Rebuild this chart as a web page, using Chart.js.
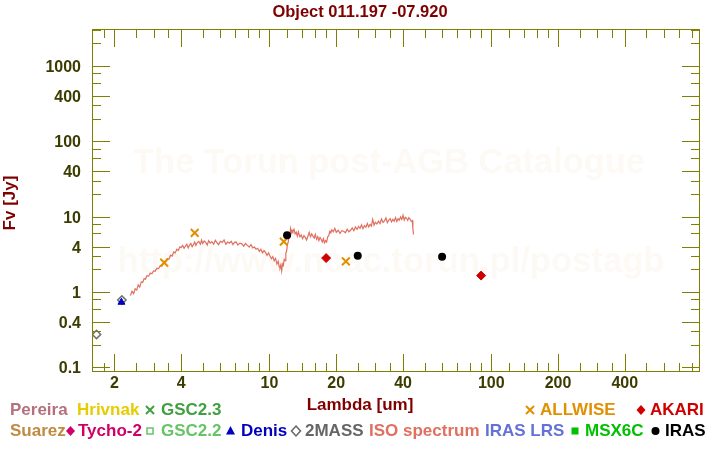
<!DOCTYPE html>
<html>
<head>
<meta charset="utf-8">
<script src="https://cdn.jsdelivr.net/npm/chart.js@4.4.1/dist/chart.umd.min.js"></script>
<style>
  html, body { margin: 0; padding: 0; background: #ffffff; }
  #wrap { width: 720px; height: 450px; }
</style>
</head>
<body>
<div id="wrap"><canvas id="myChart" width="720" height="450"></canvas></div>
<script>
// photometry (wavelength in um, flux in Jy)
const allwiseWave = [3.35, 4.6, 11.6, 22.1]
const allwiseFlux = [2.45, 6.1, 4.65, 2.55]
const irasWave = [12, 25, 60]
const irasFlux = [5.65, 3.03, 2.94]
const akariWave = [18, 90]
const akariFlux = [2.82, 1.65]
const twomassWave = [1.66, 2.16]
const twomassFlux = [0.273, 0.78]
const denisWave = [2.15]
const denisFlux = [0.73]

// ISO spectrum
const isoWave = [
  2.36, 2.40, 2.44, 2.48, 2.52, 2.56, 2.60, 2.64, 2.68, 2.72, 2.76, 2.80, 2.85, 2.90, 2.95, 3.00,
  3.05, 3.10, 3.16, 3.22, 3.28, 3.34, 3.40, 3.46, 3.52, 3.58, 3.64, 3.70, 3.76, 3.82, 3.88, 3.94,
  4.00, 4.06, 4.12, 4.18, 4.24, 4.30, 4.36, 4.42, 4.48, 4.54, 4.60, 4.66, 4.72, 4.80, 4.88, 4.94,
  5.00, 5.08, 5.16, 5.24, 5.32, 5.40, 5.50, 5.60, 5.70, 5.80, 5.90, 6.00, 6.12, 6.24, 6.36, 6.48,
  6.60, 6.72, 6.84, 6.96, 7.08, 7.20, 7.35, 7.50, 7.65, 7.80, 7.95, 8.10, 8.25, 8.40, 8.55, 8.70,
  8.85, 9.00, 9.15, 9.30, 9.45, 9.60, 9.75, 9.90, 10.05, 10.20, 10.35, 10.50, 10.65, 10.80, 10.95, 11.05,
  11.15, 11.25, 11.35, 11.45, 11.55, 11.65, 11.75, 11.85, 11.95, 12.05, 12.15, 12.25, 12.35, 12.45, 12.55, 12.65,
  12.75, 12.90, 13.05, 13.20, 13.35, 13.50, 13.70, 13.90, 14.10, 14.30, 14.50, 14.70, 14.90, 15.10, 15.30, 15.50,
  15.70, 15.90, 16.10, 16.30, 16.50, 16.70, 16.90, 17.10, 17.30, 17.50, 17.70, 17.90, 18.10, 18.30, 18.50, 18.70,
  18.90, 19.10, 19.40, 19.70, 20.00, 20.40, 20.80, 21.20, 21.60, 22.00, 22.40, 22.80, 23.20, 23.60, 24.00, 24.40,
  24.80, 25.20, 25.60, 26.00, 26.40, 26.80, 27.20, 27.60, 28.00, 28.40, 28.80, 29.20, 29.60, 30.00, 30.50, 31.00,
  31.50, 32.00, 32.50, 33.00, 33.50, 34.00, 34.50, 35.00, 35.50, 36.00, 36.50, 37.00, 37.50, 38.00, 38.50, 39.00,
  39.50, 40.00, 40.50, 41.00, 41.50, 42.00, 42.50, 43.00, 43.50, 44.00, 44.30, 44.60
]
const isoFlux = [
  0.90, 1.02, 0.95, 1.10, 1.06, 1.24, 1.16, 1.36, 1.34, 1.50, 1.48, 1.64, 1.62, 1.78, 1.74, 1.90,
  1.88, 2.05, 2.04, 2.24, 2.22, 2.44, 2.50, 2.78, 2.72, 3.08, 3.00, 3.40, 3.30, 3.70, 3.55, 3.95,
  3.90, 4.15, 3.80, 4.05, 4.30, 3.85, 4.20, 4.40, 4.00, 4.25, 4.60, 4.15, 4.50, 4.70, 4.30, 4.90,
  4.40, 4.75, 4.55, 4.20, 4.80, 4.45, 4.65, 4.30, 4.85, 4.50, 4.25, 4.70, 4.55, 4.90, 4.30, 4.60,
  4.45, 4.70, 4.25, 4.55, 4.60, 4.20, 4.45, 4.35, 4.05, 4.40, 4.15, 3.95, 4.25, 3.85, 3.95, 3.70,
  3.80, 3.45, 3.70, 3.30, 3.55, 3.35, 3.05, 3.30, 3.00, 2.75, 2.95, 2.60, 2.80, 2.35, 2.55, 2.20,
  2.10, 2.30, 1.90, 2.35, 2.25, 2.70, 2.60, 3.30, 3.50, 4.30, 4.60, 5.80, 5.60, 6.90, 6.10, 6.60,
  6.30, 6.80, 5.90, 6.20, 5.50, 6.30, 5.40, 5.70, 5.10, 5.60, 5.30, 4.90, 5.50, 6.20, 5.40, 5.90,
  5.50, 5.20, 5.80, 5.00, 5.40, 4.80, 5.30, 5.00, 4.60, 5.10, 4.50, 4.80, 4.60, 5.40, 5.60, 6.40,
  6.10, 6.70, 6.30, 7.00, 6.20, 6.60, 6.00, 6.50, 6.40, 6.10, 6.80, 6.30, 6.60, 7.10, 6.50, 7.30,
  6.80, 7.40, 7.00, 7.80, 6.90, 7.60, 7.20, 8.10, 7.30, 7.90, 7.50, 9.20, 7.70, 8.40, 8.00, 8.70,
  8.10, 9.30, 8.40, 8.80, 9.60, 8.30, 9.00, 9.40, 8.50, 9.20, 8.70, 9.70, 8.60, 9.40, 9.00, 9.90,
  9.20, 10.4, 9.00, 9.80, 9.50, 8.90, 9.70, 9.30, 8.70, 8.90, 6.90, 5.80
]

// axis tick marks and labels
const xTickMarks = [1.8, 2, 2.5, 3, 3.5, 4, 5, 6, 7, 8, 9, 10, 12, 14, 16, 18, 20, 25, 30, 35, 40,
  50, 60, 70, 80, 90, 100, 120, 140, 160, 180, 200, 250, 300, 350, 400, 500, 600, 700, 800]
const xTickLabels = [2, 4, 10, 20, 40, 100, 200, 400]
const yTickMarks = [0.1, 0.2, 0.3, 0.4, 0.6, 0.8, 1, 2, 3, 4, 6, 8, 10, 20, 30, 40, 60, 80,
  100, 200, 300, 400, 600, 800, 1000, 2000, 3000]
const yTickLabels = [0.1, 0.4, 1, 4, 10, 40, 100, 400, 1000]

const legendRows = [
  [
    { text: 'Pereira', color: '#b4707e', x: 10 },
    { text: 'Hrivnak', color: '#e6cc00', x: 77 },
    { text: 'GSC2.3', color: '#40a040', x: 161, mark: 'cross', mx: 150 },
    { text: 'ALLWISE', color: '#e09000', x: 540, mark: 'cross', mx: 530 },
    { text: 'AKARI', color: '#d00000', x: 650, mark: 'diamond', mx: 641 }
  ],
  [
    { text: 'Suarez', color: '#c08a40', x: 10 },
    { text: 'Tycho-2', color: '#d0006a', x: 78, mark: 'diamond', mx: 70.5 },
    { text: 'GSC2.2', color: '#66c466', x: 161, mark: 'square', mx: 150 },
    { text: 'Denis', color: '#0000c0', x: 241, mark: 'triangle', mx: 230.5 },
    { text: '2MASS', color: '#666666', x: 305, mark: 'openDiamond', mx: 296 },
    { text: 'ISO spectrum', color: '#e07060', x: 369 },
    { text: 'IRAS LRS', color: '#6472d6', x: 485 },
    { text: 'MSX6C', color: '#00c000', x: 585, mark: 'fillSquare', mx: 575 },
    { text: 'IRAS', color: '#000000', x: 665, mark: 'dot', mx: 655.5 }
  ]
]

const FONT = '"Liberation Sans", Arial, sans-serif'
const AXIS = '#808000'

function pts(xs, ys) {
  return xs.map((x, i) => ({ x: x, y: ys[i] }))
}

function drawMark(ctx, kind, x, y, color) {
  ctx.save()
  ctx.fillStyle = color
  ctx.strokeStyle = color
  ctx.lineWidth = 1.5
  ctx.beginPath()
  if (kind === 'cross') {
    ctx.lineWidth = 2
    ctx.moveTo(x - 4, y - 4); ctx.lineTo(x + 4, y + 4)
    ctx.moveTo(x + 4, y - 4); ctx.lineTo(x - 4, y + 4)
    ctx.stroke()
  } else if (kind === 'diamond' || kind === 'openDiamond') {
    ctx.moveTo(x, y - 5); ctx.lineTo(x + 4.5, y); ctx.lineTo(x, y + 5); ctx.lineTo(x - 4.5, y)
    ctx.closePath()
    if (kind === 'diamond') ctx.fill()
    else ctx.stroke()
  } else if (kind === 'square') {
    ctx.strokeRect(x - 3, y - 3, 6, 6)
  } else if (kind === 'fillSquare') {
    ctx.fillRect(x - 3.5, y - 3.5, 7, 7)
  } else if (kind === 'triangle') {
    ctx.moveTo(x, y - 5); ctx.lineTo(x + 4.5, y + 3.5); ctx.lineTo(x - 4.5, y + 3.5)
    ctx.closePath()
    ctx.fill()
  } else if (kind === 'dot') {
    ctx.arc(x, y, 4, 0, Math.PI * 2)
    ctx.fill()
  }
  ctx.restore()
}

function fitText(ctx, text, width) {
  ctx.font = 'bold 100px ' + FONT
  return 100 * width / ctx.measureText(text).width
}

const decor = {
  id: 'decor',
  beforeDraw(chart) {
    const ctx = chart.ctx
    ctx.save()
    ctx.fillStyle = '#ffffff'
    ctx.fillRect(0, 0, chart.width, chart.height)
    ctx.restore()
  },
  beforeDatasetsDraw(chart) {
    const ctx = chart.ctx
    ctx.save()
    ctx.fillStyle = '#fdfaf5'
    ctx.textAlign = 'center'
    ctx.textBaseline = 'middle'
    let s = fitText(ctx, 'The Torun post-AGB Catalogue', 512)
    ctx.font = 'bold ' + s + 'px ' + FONT
    ctx.fillText('The Torun post-AGB Catalogue', 389, 164)
    s = fitText(ctx, 'http://www.ncac.torun.pl/postagb', 547)
    ctx.font = 'bold ' + s + 'px ' + FONT
    ctx.fillText('http://www.ncac.torun.pl/postagb', 391, 262)
    ctx.restore()
  },
  afterDraw(chart) {
    const ctx = chart.ctx
    const a = chart.chartArea
    const xs = chart.scales.x
    const ys = chart.scales.y
    ctx.save()
    ctx.strokeStyle = AXIS
    ctx.lineWidth = 1
    ctx.strokeRect(a.left + 0.5, a.top + 0.5, a.right - a.left - 1, a.bottom - a.top - 1)
    ctx.beginPath()
    xTickMarks.forEach(function (v) {
      const px = Math.round(xs.getPixelForValue(v)) + 0.5
      const len = xTickLabels.includes(v) ? 18 : 9
      ctx.moveTo(px, a.bottom); ctx.lineTo(px, a.bottom - len)
      ctx.moveTo(px, a.top); ctx.lineTo(px, a.top + len)
    })
    yTickMarks.forEach(function (v) {
      const py = Math.round(ys.getPixelForValue(v)) + 0.5
      const len = yTickLabels.includes(v) ? 18 : 9
      ctx.moveTo(a.left, py); ctx.lineTo(a.left + len, py)
      ctx.moveTo(a.right, py); ctx.lineTo(a.right - len, py)
    })
    ctx.stroke()

    ctx.fillStyle = '#800000'
    ctx.font = 'bold 16.5px ' + FONT
    ctx.textAlign = 'center'
    ctx.textBaseline = 'middle'
    ctx.fillText('Object 011.197 -07.920', 360, 12)
    ctx.font = 'bold 17px ' + FONT
    ctx.fillText('Lambda [um]', 360, 405)
    ctx.save()
    ctx.translate(10, 203)
    ctx.rotate(-Math.PI / 2)
    ctx.fillText('Fv [Jy]', 0, 0)
    ctx.restore()

    ctx.textAlign = 'left'
    const rowY = [410, 431]
    legendRows.forEach(function (row, r) {
      row.forEach(function (e) {
        if (e.mark) drawMark(ctx, e.mark, e.mx, rowY[r], e.color)
        ctx.fillStyle = e.color
        ctx.fillText(e.text, e.x, rowY[r])
      })
    })
    ctx.restore()
  }
}

const tickFont = { family: FONT, size: 16, weight: 'bold' }

const config = {
  type: 'scatter',
  data: {
    datasets: [
      {
        label: 'IRAS',
        data: pts(irasWave, irasFlux),
        pointStyle: 'circle',
        pointRadius: 4,
        backgroundColor: '#000000',
        borderColor: '#000000',
        borderWidth: 0
      },
      {
        label: 'AKARI',
        data: pts(akariWave, akariFlux),
        pointStyle: 'rectRot',
        pointRadius: 4.5,
        backgroundColor: '#d00000',
        borderColor: '#d00000',
        borderWidth: 1
      },
      {
        label: 'ALLWISE',
        data: pts(allwiseWave, allwiseFlux),
        pointStyle: 'crossRot',
        pointRadius: 5.5,
        borderColor: '#e09000',
        borderWidth: 2
      },
      {
        label: 'Denis',
        data: pts(denisWave, denisFlux),
        pointStyle: 'triangle',
        pointRadius: 4,
        backgroundColor: '#0000c0',
        borderColor: '#0000c0',
        borderWidth: 1
      },
      {
        label: '2MASS',
        data: pts(twomassWave, twomassFlux),
        pointStyle: 'rectRot',
        pointRadius: 4.2,
        backgroundColor: 'rgba(255,255,255,0)',
        borderColor: '#707070',
        borderWidth: 1.5
      },
      {
        label: 'ISO spectrum',
        data: pts(isoWave, isoFlux),
        showLine: true,
        pointRadius: 0,
        borderColor: '#e07060',
        borderWidth: 1.2,
        tension: 0
      }
    ]
  },
  options: {
    responsive: false,
    animation: false,
    devicePixelRatio: 1,
    layout: { padding: { left: 0, right: 20, top: 29, bottom: 0 } },
    plugins: {
      legend: { display: false },
      title: { display: false },
      tooltip: { enabled: false }
    },
    scales: {
      x: {
        type: 'logarithmic',
        min: 1.584,
        max: 873,
        grid: { display: false },
        border: { display: false },
        afterBuildTicks: function (s) {
          s.ticks = xTickLabels.map(v => ({ value: v }))
        },
        afterFit: function (s) {
          s.height = 78
        },
        ticks: {
          autoSkip: false,
          maxRotation: 0,
          padding: -6,
          color: '#3c3c00',
          font: tickFont,
          callback: function (v) { return String(v) }
        }
      },
      y: {
        type: 'logarithmic',
        min: 0.0866,
        max: 3097,
        grid: { display: false },
        border: { display: false },
        afterBuildTicks: function (s) {
          s.ticks = yTickLabels.map(v => ({ value: v }))
        },
        afterFit: function (s) {
          s.width = 92
        },
        ticks: {
          autoSkip: false,
          padding: 3,
          labelOffset: 1.5,
          color: '#3c3c00',
          font: tickFont,
          callback: function (v) { return String(v) }
        }
      }
    }
  },
  plugins: [decor]
}

const myChart = new Chart(document.getElementById('myChart'), config)
</script>
</body>
</html>
